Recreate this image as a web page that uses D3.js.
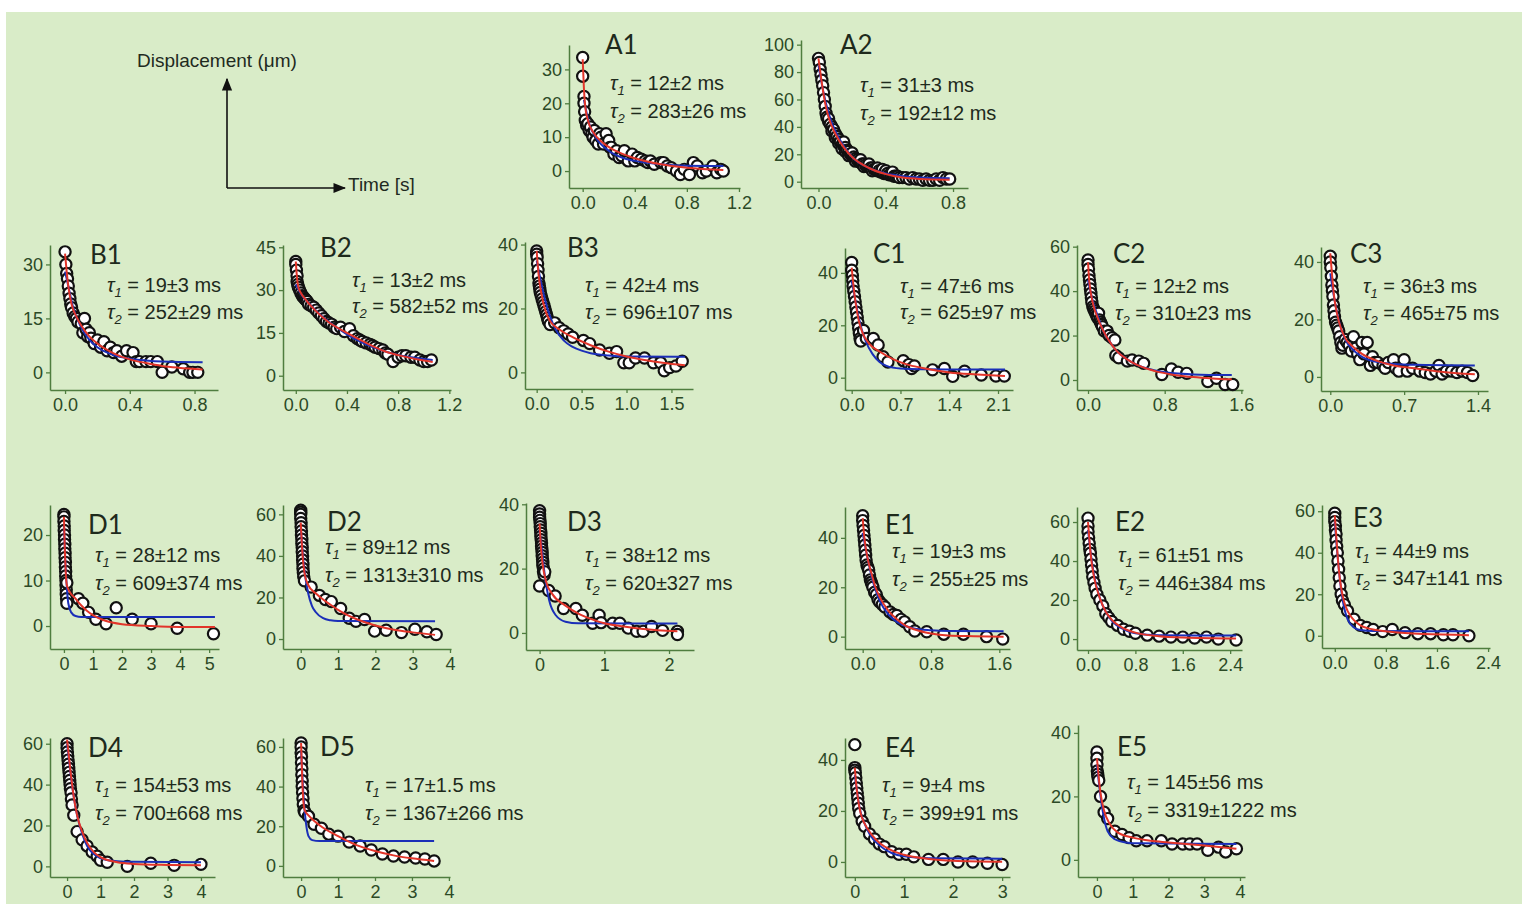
<!DOCTYPE html>
<html>
<head>
<meta charset="utf-8">
<script src="https://cdn.jsdelivr.net/npm/d3@7"></script>
<style>
  html, body { margin: 0; padding: 0; background: #ffffff; }
  svg { display: block; }
</style>
</head>
<body>
<svg id="chart" width="1525" height="904"></svg>
<script>
// ---- measured displacement decays: [time (s), displacement (µm)] ----
const A1_pts = [[0,33.5],[0,28],[0.01,22],[0.01,20],[0.015,17.5],[0.02,15],[0.03,13.5],[0.04,14],[0.05,12],[0.06,13],[0.07,11],[0.08,10],[0.09,12],[0.1,9],[0.12,8],[0.13,11],[0.14,10],[0.16,8],[0.18,11],[0.2,9],[0.21,7],[0.22,7],[0.24,5],[0.26,6],[0.28,4],[0.3,4.5],[0.32,6],[0.35,3],[0.38,5],[0.4,3],[0.42,4],[0.45,3.5],[0.48,3],[0.5,2.5],[0.52,3],[0.55,2],[0.6,2.5],[0.62,2.5],[0.65,1.5],[0.68,1],[0.72,0],[0.75,-1],[0.78,0.5],[0.82,-1],[0.85,2.5],[0.88,1.5],[0.92,-0.5],[0.95,0],[1.0,1.5],[1.03,-0.5],[1.06,0.5],[1.08,0]];
const A2_pts = [[0,90],[0.005,87],[0.01,82],[0.015,78],[0.02,74],[0.025,70],[0.03,65],[0.035,60],[0.04,55],[0.045,50],[0.05,47],[0.06,44],[0.06,46],[0.07,42],[0.08,40],[0.08,37],[0.09,38],[0.1,35],[0.1,32],[0.11,33],[0.12,31],[0.12,28],[0.13,29],[0.14,27],[0.14,24],[0.15,26],[0.15,29],[0.16,25],[0.16,22],[0.17,23],[0.18,22],[0.18,19],[0.19,20],[0.2,19],[0.2,21],[0.21,18],[0.22,17],[0.22,15],[0.23,16],[0.24,15],[0.25,14],[0.25,16],[0.26,13],[0.27,13],[0.27,11],[0.28,12],[0.29,11],[0.3,11],[0.3,13],[0.31,10],[0.32,10],[0.32,8],[0.33,9],[0.34,9],[0.35,8],[0.35,10],[0.36,8],[0.37,7],[0.38,7],[0.38,9],[0.39,6],[0.4,6],[0.4,8],[0.41,6],[0.42,5],[0.43,5],[0.44,5],[0.44,7],[0.45,4],[0.46,4],[0.47,4],[0.48,3],[0.5,3],[0.52,3],[0.54,2],[0.56,3],[0.58,2],[0.6,2],[0.62,1],[0.64,2],[0.66,1],[0.68,1],[0.7,2],[0.72,1],[0.74,3],[0.76,2],[0.78,2]];
const B1_pts = [[0,33.5],[0.005,30],[0.01,27.5],[0.015,26],[0.02,24],[0.025,22],[0.03,20.5],[0.035,19],[0.04,18],[0.05,16.5],[0.06,15.5],[0.07,15],[0.08,14],[0.1,13.5],[0.11,11],[0.12,15],[0.13,12],[0.14,10],[0.15,11],[0.16,9.5],[0.18,8],[0.2,9],[0.22,7],[0.24,8.5],[0.26,6],[0.28,7],[0.3,5.5],[0.32,6],[0.35,4.5],[0.38,6],[0.42,5.5],[0.44,3],[0.46,3],[0.5,3],[0.53,3],[0.57,3],[0.6,0],[0.66,1.5],[0.73,1],[0.77,0],[0.79,0],[0.82,0]];
const B2_pts = [[0,40],[0,39],[0.005,37],[0.01,35],[0.01,33],[0.015,32],[0.02,31],[0.03,30],[0.04,29],[0.05,28],[0.06,27.5],[0.07,27],[0.08,26.5],[0.09,26],[0.1,25],[0.12,24.5],[0.14,24],[0.16,23],[0.18,22],[0.2,21],[0.22,20],[0.24,19],[0.26,18.5],[0.28,18],[0.3,17],[0.32,16.5],[0.35,17],[0.38,15.5],[0.42,16.5],[0.45,14],[0.48,13],[0.5,12.5],[0.52,12],[0.55,11.5],[0.58,11],[0.6,10.5],[0.62,10],[0.65,9.5],[0.68,9],[0.7,8],[0.72,7.5],[0.76,5],[0.8,6.5],[0.83,7],[0.86,7],[0.9,6.5],[0.93,6.5],[0.97,5.5],[1.0,5],[1.03,5],[1.06,5.5]];
const B3_pts = [[0,38],[0,37],[0.005,36],[0.01,34],[0.015,32],[0.02,30],[0.025,28],[0.03,27],[0.035,26],[0.04,25],[0.05,24],[0.06,23],[0.07,22],[0.08,21],[0.09,20],[0.1,19],[0.11,18],[0.12,17],[0.13,16],[0.15,15],[0.2,15.5],[0.25,14],[0.3,13],[0.35,12],[0.4,11],[0.52,10],[0.59,9],[0.7,7],[0.81,6],[0.89,6.5],[0.97,3],[1.03,3],[1.1,4.5],[1.2,4.5],[1.3,3],[1.38,3],[1.42,0.5],[1.48,1.5],[1.55,2],[1.62,3.5]];
const C1_pts = [[0,44],[0,41],[0.01,39],[0.015,37],[0.02,35],[0.03,33],[0.04,31],[0.05,29],[0.06,27],[0.07,25],[0.08,23],[0.09,21],[0.1,19],[0.11,17],[0.12,15],[0.13,14],[0.17,18],[0.21,15],[0.31,15],[0.38,12.5],[0.45,8],[0.52,6],[0.74,6.5],[0.82,5],[0.86,3.5],[0.9,4.5],[1.16,3],[1.33,3.5],[1.45,0.5],[1.62,2.5],[1.86,1],[2.07,0.6],[2.19,0.6]];
const C2_pts = [[0,54],[0,52],[0.005,50],[0.01,47],[0.015,45],[0.02,43],[0.025,41],[0.03,39],[0.035,37],[0.04,35],[0.05,33],[0.06,32],[0.07,31],[0.08,30],[0.09,29],[0.1,28],[0.11,30],[0.12,27],[0.13,26],[0.14,25],[0.15,24],[0.17,22],[0.2,22],[0.22,20],[0.25,19],[0.28,18],[0.29,11],[0.32,10],[0.41,8.5],[0.46,9],[0.53,8.5],[0.58,7.5],[0.77,2.5],[0.87,5],[0.94,3.5],[1.03,3],[1.25,-0.7],[1.34,0.8],[1.43,-2],[1.51,-2]];
const C3_pts = [[0,42],[0,40],[0.005,38],[0.01,35],[0.015,32],[0.02,30],[0.025,28],[0.03,25],[0.035,23],[0.04,21],[0.05,19],[0.06,18],[0.07,17],[0.08,16],[0.09,14],[0.1,12],[0.11,10],[0.12,11],[0.14,13],[0.16,12],[0.18,11],[0.2,9],[0.22,14],[0.24,10],[0.26,8],[0.28,6],[0.3,12],[0.32,8],[0.35,12],[0.38,4],[0.4,7],[0.42,5],[0.45,5],[0.5,4],[0.52,3],[0.55,5],[0.6,6],[0.62,3],[0.65,2],[0.7,6],[0.73,2],[0.78,3],[0.85,2],[0.9,1.5],[0.95,1],[1.0,2],[1.03,4],[1.06,1],[1.1,2],[1.15,2],[1.2,1.5],[1.25,2],[1.3,1.5],[1.35,0.5]];
const D1_pts = [[0,24.5],[0,24],[0,23],[0.01,22],[0.01,21],[0.02,20],[0.02,19],[0.03,18],[0.03,17],[0.04,16],[0.04,15],[0.05,14],[0.05,13],[0.06,12],[0.06,11],[0.07,10],[0.07,9],[0.08,8],[0.08,7],[0.09,6],[0.1,5],[0.1,9.5],[0.5,6],[0.65,5],[0.85,3],[1.1,1.5],[1.45,0.5],[1.8,4],[2.35,1.5],[3.0,0.5],[3.9,-0.5],[5.15,-1.7]];
const D2_pts = [[0,62],[0,61],[0,60],[0,58],[0.01,56],[0.01,54],[0.02,52],[0.02,50],[0.03,48],[0.03,46],[0.04,44],[0.04,42],[0.05,40],[0.05,38],[0.06,36],[0.06,34],[0.07,32],[0.08,30],[0.1,28],[0.28,25],[0.5,21],[0.66,19],[0.82,18],[1.07,14.7],[1.3,10],[1.48,8.5],[1.71,9.4],[1.98,3.8],[2.29,4.2],[2.7,3.1],[3.06,4.7],[3.38,3.5],[3.63,2.2]];
const D3_pts = [[0,38],[0,37],[0,36],[0.005,35],[0.01,34],[0.01,33],[0.015,32],[0.02,31],[0.02,30],[0.025,29],[0.03,28],[0.03,27],[0.035,26],[0.04,25],[0.04,24],[0.045,23],[0.05,22],[0.05,21],[0.06,20],[0.06,19],[0.07,18],[0,14.6],[0.08,19],[0.14,13.2],[0.24,11.5],[0.37,7.6],[0.56,7.6],[0.66,5.5],[0.82,3],[0.92,5.5],[0.95,3.2],[1.13,3],[1.24,3],[1.37,1.5],[1.5,0.5],[1.6,0.5],[1.73,2],[1.9,0.8],[2.13,0.5],[2.13,-0.5]];
const E1_pts = [[0,49],[0,47],[0.005,45],[0.01,43],[0.015,41],[0.02,39],[0.025,37],[0.03,35],[0.035,33],[0.04,31],[0.05,29],[0.06,28],[0.07,27],[0.08,25],[0.09,23],[0.1,22],[0.11,21],[0.12,20],[0.14,18],[0.16,17],[0.18,15],[0.2,14],[0.23,13],[0.26,12],[0.32,10],[0.36,9],[0.4,8.6],[0.45,7],[0.49,6],[0.55,4],[0.61,2.3],[0.75,2],[0.95,1],[1.18,1],[1.45,0],[1.64,-1]];
const E2_pts = [[0,62],[0,58],[0,55],[0.01,52],[0.02,49],[0.03,46],[0.04,44],[0.05,41],[0.06,38],[0.07,35],[0.08,32],[0.1,29],[0.12,26],[0.15,23],[0.2,20],[0.25,17],[0.3,13],[0.35,11],[0.4,9],[0.5,7],[0.6,5],[0.7,4],[0.8,3],[1.0,2],[1.2,1.5],[1.4,1],[1.6,1],[1.8,0.5],[2.0,1],[2.2,0],[2.5,-0.5]];
const E3_pts = [[0,59],[0,57],[0,55],[0.01,53],[0.01,51],[0.02,49],[0.02,46],[0.03,43],[0.04,40],[0.05,36],[0.06,32],[0.07,28],[0.08,24],[0.1,20],[0.12,17],[0.15,15],[0.2,12],[0.3,8],[0.4,5],[0.5,4],[0.6,3],[0.75,2],[0.9,3],[1.1,1.5],[1.3,1],[1.5,1],[1.7,0.5],[1.85,0.5],[2.1,0]];
const D4_pts = [[0,60],[0,58],[0.01,56],[0.02,54],[0.03,52],[0.04,50],[0.05,48],[0.06,46],[0.07,44],[0.08,42],[0.09,40],[0.1,38],[0.12,36],[0.13,33],[0.15,30],[0.2,25],[0.3,17],[0.45,13],[0.6,10],[0.75,7],[0.9,5],[1.0,3],[1.2,2],[1.8,0],[2.5,1.5],[3.2,0.5],[4.0,1]];
const D5_pts = [[0,62],[0,60],[0,57],[0.01,55],[0.01,52],[0.02,49],[0.02,46],[0.03,43],[0.03,40],[0.04,37],[0.05,34],[0.06,31],[0.08,28],[0.1,27],[0.2,25],[0.35,21],[0.55,19],[0.75,16],[1.0,15],[1.3,12],[1.6,10],[1.9,8],[2.2,6],[2.5,5],[2.8,4.5],[3.1,4],[3.35,3.5],[3.6,2.5]];
const E4_pts = [[0,46],[0,37],[0,36],[0.01,35],[0.02,33],[0.03,31],[0.04,29],[0.05,27],[0.06,25],[0.07,23],[0.08,21],[0.1,19],[0.15,16],[0.2,14],[0.3,11],[0.4,9],[0.5,7],[0.6,6],[0.75,4],[0.9,3],[1.05,3],[1.2,2],[1.5,1],[1.8,1],[2.1,0],[2.4,0],[2.7,-0.5],[3.0,-1]];
const E5_pts = [[0,34],[0,32],[0,30],[0.01,28],[0.02,27],[0.03,26],[0.05,25],[0.1,20],[0.2,15],[0.3,13],[0.5,9],[0.7,8],[0.9,7],[1.1,6],[1.4,6],[1.8,6],[2.1,5],[2.4,5],[2.6,5],[2.8,5],[3.1,3],[3.4,4],[3.6,2.5],[3.9,3.5]];

// ---- bi-exponential fits (red) ----
const A1_red = [[0,33],[0.01,24],[0.02,19],[0.04,15],[0.08,11.5],[0.15,8.5],[0.25,6],[0.4,3.8],[0.6,2],[0.8,1],[1.08,0.3]];
const A2_red = [[0,90],[0.02,72],[0.04,57],[0.06,47],[0.1,35],[0.15,25],[0.2,18],[0.3,10],[0.4,5.5],[0.5,3],[0.6,2],[0.78,1.5]];
const B1_red = [[0,33],[0.01,28],[0.02,24],[0.04,19],[0.07,15.5],[0.1,13],[0.15,10],[0.2,8],[0.3,5.3],[0.4,3.6],[0.5,2.6],[0.6,1.8],[0.7,1.3],[0.85,0.8]];
const B2_red = [[0,40],[0.01,34],[0.02,31],[0.04,29],[0.08,26.5],[0.15,23],[0.25,19],[0.4,15],[0.55,11.5],[0.7,8.5],[0.85,6.7],[1.0,5.3],[1.07,4.8]];
const B3_red = [[0,38],[0.02,31],[0.05,25],[0.1,19],[0.15,16],[0.25,13.5],[0.4,11],[0.6,8.5],[0.8,6.5],[1.0,5],[1.2,3.9],[1.4,3],[1.65,2.2]];
const C1_red = [[0,42],[0.03,34],[0.06,28],[0.1,22],[0.15,17.5],[0.25,13],[0.4,10],[0.6,7],[0.8,5],[1.0,3.8],[1.4,2],[1.8,1.2],[2.2,0.6]];
const C2_red = [[0,53],[0.01,46],[0.03,39],[0.06,33],[0.1,28],[0.15,23],[0.2,19],[0.3,13],[0.4,9.5],[0.5,7],[0.7,4],[0.9,2.3],[1.1,1.3],[1.3,0.7],[1.5,0.3]];
const C3_red = [[0,43],[0.02,34],[0.04,27],[0.07,21],[0.1,17],[0.15,13],[0.2,11],[0.3,8],[0.45,5.5],[0.6,4],[0.8,3],[1.0,2],[1.2,1.3],[1.37,0.9]];
const D1_red = [[0,24],[0.03,17],[0.06,12],[0.1,9],[0.2,7.5],[0.4,6],[0.6,4.5],[0.8,3.3],[1.0,2.4],[1.4,1.2],[2,0.4],[3,0],[4,-0.2],[5.2,-0.2]];
const D2_red = [[0,56],[0.03,46],[0.06,38],[0.1,32],[0.2,26],[0.4,22],[0.6,19],[0.8,16.5],[1.0,14],[1.5,9.5],[2.0,6.5],[2.5,4.5],[3.0,3.2],[3.6,2]];
const D3_red = [[0,34],[0.02,27],[0.05,21],[0.1,16],[0.2,12],[0.4,8.5],[0.6,6],[0.8,4.3],[1.0,3],[1.3,2],[1.6,1.2],[2.13,0.5]];
const E1_red = [[0,48],[0.02,40],[0.05,33],[0.1,26],[0.15,20],[0.2,16],[0.3,10.5],[0.4,7],[0.5,4.5],[0.6,3],[0.8,1.3],[1.0,0.5],[1.3,0.2],[1.65,0]];
const E2_red = [[0,60],[0.05,42],[0.1,32],[0.2,21],[0.3,14],[0.4,10],[0.6,5.5],[0.8,3.3],[1.2,1.5],[1.6,0.8],[2.5,0.3]];
const E3_red = [[0,58],[0.03,45],[0.06,33],[0.1,23],[0.15,16],[0.2,12],[0.3,7.5],[0.4,5],[0.6,3],[0.9,1.8],[1.4,0.8],[2.1,0.3]];
const D4_red = [[0,62],[0.1,47],[0.2,34],[0.3,25],[0.45,17],[0.6,11.5],[0.8,7],[1.0,4.5],[1.5,2],[2,1.2],[3,0.7],[4,0.5]];
const D5_red = [[0,62],[0.03,44],[0.06,33],[0.1,28],[0.2,25.5],[0.5,20.5],[1.0,15],[1.5,10.5],[2.0,7.5],[2.5,5.3],[3.0,3.8],[3.6,2.5]];
const E4_red = [[0,37],[0.03,30],[0.07,24],[0.12,19],[0.2,15],[0.35,10.5],[0.5,7.5],[0.75,4.5],[1.0,2.8],[1.5,1.2],[2.0,0.5],[3.0,0.1]];
const E5_red = [[0,32],[0.05,26],[0.1,21],[0.2,15.5],[0.35,11.5],[0.6,8.5],[1.0,7],[1.5,6],[2.0,5.5],[3.0,4.5],[3.9,3.5]];

// ---- mono-exponential fits (blue) ----
const A1_blue = [[0.01,21],[0.05,14],[0.1,10],[0.2,6],[0.3,4],[0.4,3],[0.6,2],[0.8,1.6],[1.08,1.5]];
const A2_blue = [[0,85],[0.03,65],[0.06,50],[0.1,37],[0.15,26],[0.2,18],[0.3,10],[0.4,6],[0.5,4],[0.6,3],[0.78,2.5]];
const B1_blue = [[0,28],[0.02,24],[0.05,18],[0.1,12.5],[0.15,9],[0.2,7],[0.3,4.8],[0.4,3.8],[0.5,3.3],[0.6,3],[0.85,2.8]];
const B2_blue = [[0,32],[0.05,28],[0.1,25.5],[0.2,21],[0.3,17.5],[0.4,14.5],[0.5,12],[0.6,10],[0.7,8.5],[0.8,7.3],[0.9,6.5],[1.07,5.5]];
const B3_blue = [[0,35],[0.05,28],[0.1,22],[0.2,14],[0.3,10],[0.4,8],[0.5,6.8],[0.6,6],[0.8,5.3],[1.0,5],[1.65,4.9]];
const C1_blue = [[0,37],[0.05,30],[0.1,23],[0.2,14],[0.3,9],[0.4,6],[0.5,4.5],[0.7,3.5],[1.0,3.2],[2.2,3.1]];
const C2_blue = [[0,45],[0.03,39],[0.06,34],[0.1,29],[0.15,23],[0.2,19],[0.3,13],[0.4,9.5],[0.5,7],[0.7,4.3],[0.9,3],[1.1,2.5],[1.5,2.2]];
const C3_blue = [[0,36],[0.03,29],[0.06,23],[0.1,17],[0.15,12.5],[0.2,10],[0.3,7],[0.4,5.5],[0.6,4.5],[0.8,4.2],[1.37,4]];
const D1_blue = [[0,22],[0.05,14],[0.1,8.5],[0.15,5],[0.25,3],[0.4,2.2],[0.6,2],[5.2,2]];
const D2_blue = [[0,54],[0.05,42],[0.1,33],[0.2,22],[0.3,16],[0.4,13],[0.6,10],[0.8,9],[1.0,8.7],[3.6,8.5]];
const D3_blue = [[0,32],[0.04,25],[0.08,18],[0.15,10],[0.25,5.5],[0.4,3.5],[0.6,3],[2.13,2.9]];
const E1_blue = [[0,42],[0.05,33],[0.1,25],[0.15,19],[0.2,14.5],[0.3,9],[0.4,6],[0.5,4.3],[0.6,3.3],[0.8,2.6],[1.0,2.3],[1.65,2.2]];
const E2_blue = [[0,56],[0.05,43],[0.1,33],[0.2,21],[0.3,14],[0.4,9.5],[0.6,5],[0.8,3],[1.2,2],[2.5,1.8]];
const E3_blue = [[0,55],[0.03,43],[0.06,33],[0.1,22],[0.15,13],[0.2,8],[0.3,4],[0.4,2.8],[0.6,2.3],[2.1,2.2]];
const D4_blue = [[0,60],[0.1,46],[0.2,34],[0.3,25],[0.45,16],[0.6,10],[0.8,6],[1.0,4],[1.5,2.5],[2,2.2],[4,2]];
const D5_blue = [[0,58],[0.05,40],[0.1,27],[0.15,19],[0.2,15],[0.3,13],[0.5,12.5],[3.6,12.5]];
const E4_blue = [[0,34],[0.05,27],[0.1,21],[0.2,15],[0.3,11],[0.5,6.5],[0.75,3.5],[1.0,2.2],[1.5,1.5],[3,1.3]];
const E5_blue = [[0,30],[0.1,20],[0.2,13],[0.3,9],[0.5,6.5],[0.8,5.5],[1.2,5.2],[3.9,5]];

// ---- panel names, time constants, tick values ----
const panelNames = ["A1","A2","B1","B2","B3","C1","C2","C3","D1","D2","D3","E1","E2","E3","D4","D5","E4","E5"];
const tau1Labels = ["12±2","31±3","19±3","13±2","42±4","47±6","12±2","36±3","28±12","89±12","38±12","19±3","61±51","44±9","154±53","17±1.5","9±4","145±56"];
const tau2Labels = ["283±26","192±12","252±29","582±52","696±107","625±97","310±23","465±75","609±374","1313±310","620±327","255±25","446±384","347±141","700±668","1367±266","399±91","3319±1222"];
const xTickValues = [[0,0.4,0.8,1.2],[0,0.4,0.8],[0,0.4,0.8],[0,0.4,0.8,1.2],[0,0.5,1.0,1.5],[0,0.7,1.4,2.1],[0,0.8,1.6],[0,0.7,1.4],[0,1,2,3,4,5],[0,1,2,3,4],[0,1,2],[0,0.8,1.6],[0,0.8,1.6,2.4],[0,0.8,1.6,2.4],[0,1,2,3,4],[0,1,2,3,4],[0,1,2,3],[0,1,2,3,4]];
const yTickValues = [[0,10,20,30],[0,20,40,60,80,100],[0,15,30],[0,15,30,45],[0,20,40],[0,20,40],[0,20,40,60],[0,20,40],[0,10,20],[0,20,40,60],[0,20,40],[0,20,40],[0,20,40,60],[0,20,40,60],[0,20,40,60],[0,20,40,60],[0,20,40],[0,20,40]];

const pointSets = [A1_pts,A2_pts,B1_pts,B2_pts,B3_pts,C1_pts,C2_pts,C3_pts,D1_pts,D2_pts,D3_pts,E1_pts,E2_pts,E3_pts,D4_pts,D5_pts,E4_pts,E5_pts];
const redFits = [A1_red,A2_red,B1_red,B2_red,B3_red,C1_red,C2_red,C3_red,D1_red,D2_red,D3_red,E1_red,E2_red,E3_red,D4_red,D5_red,E4_red,E5_red];
const blueFits = [A1_blue,A2_blue,B1_blue,B2_blue,B3_blue,C1_blue,C2_blue,C3_blue,D1_blue,D2_blue,D3_blue,E1_blue,E2_blue,E3_blue,D4_blue,D5_blue,E4_blue,E5_blue];

// ---- layout: plot box in px, axis extents, label anchors ----
// box = [left, right, top, bottom]; name = [x, baseline]; tau = [x, baseline1, baseline2]
const layout = [
  {box:[569,740,45,188],   xd:[-0.105,1.208], yd:[-5.0,37.2],  dec:1, name:[605,54],   tau:[610,90,118]},
  {box:[801,968,40,188],   xd:[-0.104,0.889], yd:[-4.6,103.4], dec:1, name:[840,54],   tau:[860,92,120]},
  {box:[50,218,245,390],   xd:[-0.093,0.945], yd:[-4.9,35.4],  dec:1, name:[90,264],   tau:[107,292,319]},
  {box:[283,451,245,390],  xd:[-0.10,1.213],  yd:[-5.0,45.8],  dec:1, name:[320,257],  tau:[352,287,313]},
  {box:[525,693,242,389],  xd:[-0.13,1.74],   yd:[-5.2,40.8],  dec:1, name:[567,257],  tau:[585,292,319]},
  {box:[845,1013,248,390], xd:[-0.096,2.315], yd:[-4.7,49.5],  dec:1, name:[873,263],  tau:[900,293,319]},
  {box:[1077,1243,245,390],xd:[-0.115,1.617], yd:[-4.5,60.75], dec:1, name:[1113,263], tau:[1115,293,320]},
  {box:[1321,1488,247,391],xd:[-0.088,1.495], yd:[-4.9,45.2],  dec:1, name:[1350,263], tau:[1363,293,320]},
  {box:[50,219,505,649],   xd:[-0.48,5.34],   yd:[-5.05,26.6], dec:0, name:[88,534],   tau:[95,562,590]},
  {box:[283,451,505,649],  xd:[-0.475,4.027], yd:[-4.8,64.5],  dec:0, name:[327,531],  tau:[325,554,582]},
  {box:[526,694,503,650],  xd:[-0.21,2.386],  yd:[-5.3,40.4],  dec:0, name:[567,531],  tau:[585,562,590]},
  {box:[845,1010,507,649], xd:[-0.207,1.725], yd:[-5.0,52.5],  dec:1, name:[885,534],  tau:[892,558,586]},
  {box:[1077,1242,507,650],xd:[-0.186,2.6],   yd:[-5.6,67.7],  dec:1, name:[1115,531], tau:[1118,562,590]},
  {box:[1322,1490,505,648],xd:[-0.2,2.43],    yd:[-5.9,63],    dec:1, name:[1353,527], tau:[1355,558,585]},
  {box:[50,215,738,877],   xd:[-0.51,4.42],   yd:[-5.2,62.8],  dec:0, name:[88,757],   tau:[95,792,820]},
  {box:[283,450,738,877],  xd:[-0.49,4.03],   yd:[-5.6,64.5],  dec:0, name:[320,756],  tau:[365,792,820]},
  {box:[845,1010,738,877], xd:[-0.2,3.16],    yd:[-5.9,48.6],  dec:0, name:[885,757],  tau:[882,792,820]},
  {box:[1078,1245,725,877],xd:[-0.53,4.14],   yd:[-5.4,42.5],  dec:0, name:[1117,756], tau:[1127,789,817]}
];

const BG = "#d9ecc8";
const AXIS = "#4f7d3f";
const TICKTXT = "#2c4a26";
const DARK = "#1e2a1c";
const RED = "#e2352a";
const BLUE = "#1b2fb8";

const svg = d3.select("#chart");
svg.append("rect").attr("x",0).attr("y",0).attr("width",1525).attr("height",904).attr("fill","#ffffff");
svg.append("rect").attr("x",6).attr("y",12).attr("width",1516).attr("height",892).attr("fill",BG);

// schematic axes: displacement vs time
const defs = svg.append("defs");
defs.append("marker").attr("id","arrow").attr("viewBox","0 0 10 10").attr("refX",9).attr("refY",5)
  .attr("markerWidth",8).attr("markerHeight",8).attr("orient","auto-start-reverse")
  .append("path").attr("d","M0,1 L10,5 L0,9 Z").attr("fill","#111");
const schem = svg.append("g");
schem.append("line").attr("x1",227).attr("y1",188).attr("x2",227).attr("y2",79)
  .attr("stroke","#111").attr("stroke-width",1.6).attr("marker-end","url(#arrow)");
schem.append("line").attr("x1",227).attr("y1",188).attr("x2",345).attr("y2",188)
  .attr("stroke","#111").attr("stroke-width",1.6).attr("marker-end","url(#arrow)");
schem.append("text").attr("x",137).attr("y",67).text("Displacement (μm)")
  .attr("font-family","Liberation Sans, Arial, sans-serif").attr("font-size",19).attr("fill","#1f2a1f");
schem.append("text").attr("x",348).attr("y",191).text("Time [s]")
  .attr("font-family","Liberation Sans, Arial, sans-serif").attr("font-size",19).attr("fill","#1f2a1f");

function drawPanel(i) {
  const L = layout[i];
  const [left, right, top, bottom] = L.box;
  const x = d3.scaleLinear().domain(L.xd).range([left, right]);
  const y = d3.scaleLinear().domain(L.yd).range([bottom, top]);
  const g = svg.append("g").attr("class","panel");
  const fmt = L.dec ? d3.format(".1f") : d3.format("d");

  const gx = g.append("g").attr("transform",`translate(0,${bottom})`)
    .call(d3.axisBottom(x).tickValues(xTickValues[i]).tickFormat(fmt).tickSize(4).tickSizeOuter(0).tickPadding(4));
  const gy = g.append("g").attr("transform",`translate(${left},0)`)
    .call(d3.axisLeft(y).tickValues(yTickValues[i]).tickFormat(d3.format("d")).tickSize(4).tickSizeOuter(0).tickPadding(3));
  [gx, gy].forEach(a => {
    a.select(".domain").attr("stroke",AXIS).attr("stroke-width",1.5);
    a.selectAll(".tick line").attr("stroke",AXIS).attr("stroke-width",1.3);
    a.selectAll(".tick text").attr("fill",TICKTXT).attr("font-size",18)
      .attr("font-family","Liberation Sans, Arial, sans-serif");
  });

  g.append("g").selectAll("circle").data(pointSets[i]).join("circle")
    .attr("cx", d => x(d[0])).attr("cy", d => y(d[1])).attr("r",5.6)
    .attr("fill","#ffffff").attr("stroke","#111").attr("stroke-width",2.2);

  const line = d3.line().x(d => x(d[0])).y(d => y(d[1])).curve(d3.curveMonotoneX);
  g.append("path").datum(blueFits[i]).attr("d",line).attr("fill","none").attr("stroke",BLUE).attr("stroke-width",2);
  g.append("path").datum(redFits[i]).attr("d",line).attr("fill","none").attr("stroke",RED).attr("stroke-width",2);

  g.append("text").attr("x",L.name[0]).attr("y",L.name[1]).text(panelNames[i])
    .attr("font-family","Lato, Open Sans, sans-serif").attr("font-size",26).attr("fill",DARK);

  const tauLines = [tau1Labels[i], tau2Labels[i]];
  tauLines.forEach((v, k) => {
    const t = g.append("text").attr("x",L.tau[0]).attr("y",L.tau[k+1])
      .attr("font-family","Liberation Sans, Arial, sans-serif").attr("font-size",20).attr("fill",DARK);
    t.append("tspan").attr("font-style","italic").text("τ");
    t.append("tspan").attr("font-style","italic").attr("font-size",13).attr("dy",5).text(String(k+1));
    t.append("tspan").attr("dy",-5).text(" = " + v + " ms");
  });
}

for (let i = 0; i < panelNames.length; i++) drawPanel(i);
</script>
</body>
</html>
